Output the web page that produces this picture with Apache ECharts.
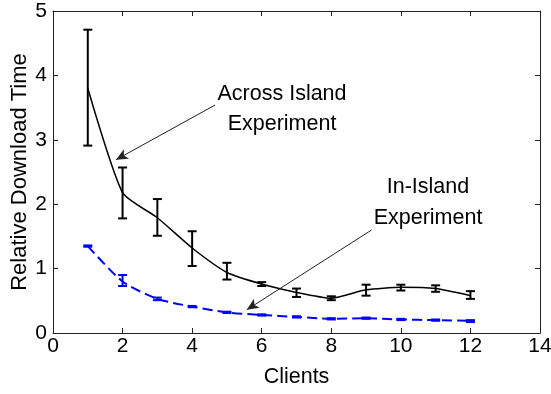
<!DOCTYPE html>
<html>
<head>
<meta charset="utf-8">
<script src="https://cdn.jsdelivr.net/npm/echarts@6/dist/echarts.min.js"></script>
<style>
  html, body { margin: 0; padding: 0; background: #fff; }
  #chart { width: 551px; height: 394px; }
</style>
</head>
<body>
<div id="chart"></div>
<script>
// data
const clients = [1, 2, 3, 4, 5, 6, 7, 8, 9, 10, 11, 12]
const acrossMean = [3.80, 2.18, 1.79, 1.32, 0.94, 0.76, 0.63, 0.54, 0.67, 0.71, 0.69, 0.58]
const acrossLow = [2.91, 1.78, 1.51, 1.04, 0.83, 0.73, 0.56, 0.51, 0.58, 0.66, 0.64, 0.53]
const acrossHigh = [4.71, 2.57, 2.08, 1.58, 1.09, 0.79, 0.69, 0.57, 0.75, 0.75, 0.74, 0.65]
const inMean = [1.35, 0.80, 0.53, 0.41, 0.32, 0.28, 0.25, 0.22, 0.23, 0.21, 0.20, 0.19]
const inLow = [1.34, 0.73, 0.51, 0.40, 0.31, 0.27, 0.24, 0.21, 0.22, 0.20, 0.19, 0.17]
const inHigh = [1.36, 0.90, 0.55, 0.42, 0.33, 0.29, 0.26, 0.23, 0.24, 0.22, 0.21, 0.20]
const xTicks = [0, 2, 4, 6, 8, 10, 12, 14]
const yTicks = [0, 1, 2, 3, 4, 5]
// annotation arrows: [start, tip] in data units
const acrossArrow = [[4.66, 3.54], [1.81, 2.69]]
const inArrow = [[9.16, 1.60], [5.57, 0.36]]

const font = 'Liberation Sans, Arial, Helvetica, sans-serif'
const axisColor = '#222'

function errorBars(color, width) {
  return function (params, api) {
    const x = api.value(0)
    const lo = api.coord([x, api.value(1)])
    const hi = api.coord([x, api.value(2)])
    const half = 4.5
    const style = { stroke: color, lineWidth: width, fill: null }
    return {
      type: 'group',
      children: [
        { type: 'line', shape: { x1: lo[0], y1: lo[1], x2: hi[0], y2: hi[1] }, style: style },
        { type: 'line', shape: { x1: lo[0] - half, y1: lo[1], x2: lo[0] + half, y2: lo[1] }, style: style },
        { type: 'line', shape: { x1: hi[0] - half, y1: hi[1], x2: hi[0] + half, y2: hi[1] }, style: style }
      ]
    }
  }
}

function arrowLine(pts) {
  return [
    { coord: pts[0], symbol: 'none' },
    { coord: pts[1], symbol: 'arrow' }
  ]
}

const xBase = {
  type: 'value',
  min: xTicks[0],
  max: xTicks[xTicks.length - 1],
  interval: 2,
  splitLine: { show: false },
  axisLine: { onZero: false, lineStyle: { color: axisColor, width: 1 } },
  axisTick: { inside: true, length: 5, lineStyle: { color: axisColor } }
}
const yBase = {
  type: 'value',
  min: yTicks[0],
  max: yTicks[yTicks.length - 1],
  interval: 1,
  splitLine: { show: false },
  axisLine: { show: true, onZero: false, lineStyle: { color: axisColor, width: 1 } },
  axisTick: { show: true, inside: true, length: 5, lineStyle: { color: axisColor } }
}

const option = {
  animation: false,
  backgroundColor: '#fff',
  grid: { left: 53, right: 11, top: 11, bottom: 61, outerBoundsMode: 'none', containLabel: false },
  xAxis: [
    Object.assign({}, xBase, {
      position: 'bottom',
      name: 'Clients',
      nameLocation: 'middle',
      nameGap: 33,
      nameMoveOverlap: false,
      nameTextStyle: { color: '#000', fontSize: 21.5, fontFamily: font },
      axisLabel: { color: '#000', fontSize: 21, fontFamily: font, margin: 3 }
    }),
    Object.assign({}, xBase, { position: 'top', axisLabel: { show: false } })
  ],
  yAxis: [
    Object.assign({}, yBase, {
      position: 'left',
      name: 'Relative Download Time',
      nameLocation: 'middle',
      nameGap: 22,
      nameMoveOverlap: false,
      nameTextStyle: { color: '#000', fontSize: 22, fontFamily: font },
      axisLabel: { color: '#000', fontSize: 21, fontFamily: font, margin: 6 }
    }),
    Object.assign({}, yBase, { position: 'right', axisLabel: { show: false } })
  ],
  series: [
    {
      name: 'In-Island',
      type: 'line',
      smooth: 0.25,
      symbol: 'none',
      data: clients.map((c, i) => [c, inMean[i]]),
      lineStyle: { color: '#0000ff', width: 2, type: [10, 5] },
      z: 2
    },
    {
      name: 'In-Island err',
      type: 'custom',
      renderItem: errorBars('#0000ff', 2),
      data: clients.map((c, i) => [c, inLow[i], inHigh[i]]),
      encode: { x: 0, y: [1, 2] },
      z: 2
    },
    {
      name: 'Across Island',
      type: 'line',
      smooth: 0.2,
      symbol: 'none',
      data: clients.map((c, i) => [c, acrossMean[i]]),
      lineStyle: { color: '#000', width: 1.5 },
      z: 3,
      markLine: {
        silent: true,
        symbolSize: [8, 12],
        label: { show: false },
        lineStyle: { color: '#222', width: 1, type: 'solid' },
        data: [arrowLine(acrossArrow), arrowLine(inArrow)]
      }
    },
    {
      name: 'Across Island err',
      type: 'custom',
      renderItem: errorBars('#000', 2),
      data: clients.map((c, i) => [c, acrossLow[i], acrossHigh[i]]),
      encode: { x: 0, y: [1, 2] },
      z: 3
    }
  ],
  graphic: [
    {
      type: 'text',
      x: 282, y: 79,
      style: {
        text: 'Across Island\nExperiment',
        align: 'center',
        verticalAlign: 'top',
        font: '21.5px ' + font,
        fill: '#000',
        lineHeight: 30
      }
    },
    {
      type: 'text',
      x: 428, y: 172,
      style: {
        text: 'In-Island\nExperiment',
        align: 'center',
        verticalAlign: 'top',
        font: '21.5px ' + font,
        fill: '#000',
        lineHeight: 31
      }
    }
  ]
}

const myChart = echarts.init(document.getElementById('chart'))
myChart.setOption(option)
</script>
</body>
</html>
